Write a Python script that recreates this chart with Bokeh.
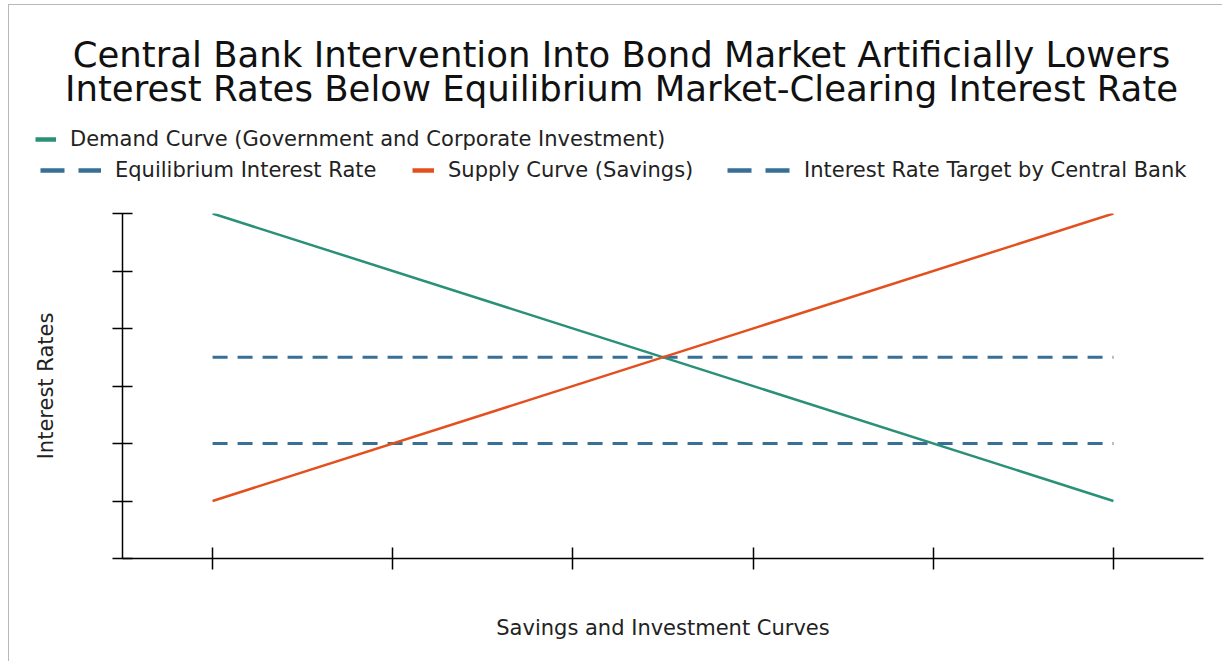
from bokeh.plotting import figure
from bokeh.layouts import column
from bokeh.models import (FixedTicker, Label, Legend, LegendItem, ColumnDataSource, Range1d,
                          CustomJSTickFormatter)
from bokeh.embed import file_html
from bokeh.resources import INLINE

# ---- data ----
x_positions = [0, 1, 2, 3, 4, 5]
curve_x = [0, 5]
demand_curve = [6, 1]
supply_curve = [1, 6]
equilibrium_rate = [3.5, 3.5]
target_rate = [2, 2]
y_ticks = [0, 1, 2, 3, 4, 5, 6]

title_lines = ["Central Bank Intervention Into Bond Market Artificially Lowers",
               "Interest Rates Below Equilibrium Market-Clearing Interest Rate"]
x_label = "Savings and Investment Curves"
y_label = "Interest Rates"
series_names = ["Demand Curve (Government and Corporate Investment)",
                "Equilibrium Interest Rate",
                "Supply Curve (Savings)",
                "Interest Rate Target by Central Bank"]

TEAL = "#2a9078"
ORANGE = "#e3501e"
BLUE = "#376f96"
FONT = "DejaVu Sans"
SMALL = "21px"

W = 1222
TOP_H = 208          # header figure (title + legend)
BOT_H = 661 - TOP_H  # chart figure

# ---------------- header figure: title + legend ----------------
head = figure(width=W, height=TOP_H, x_range=Range1d(0, W), y_range=Range1d(TOP_H, 0),
              output_backend="svg", toolbar_location=None,
              x_axis_location=None, y_axis_location=None,
              min_border=0, min_border_left=0, min_border_right=0,
              min_border_top=0, min_border_bottom=0)
head.frame_align = False
head.outline_line_color = None
head.grid.grid_line_color = None

for text, base_y in zip(title_lines, [54, 88]):
    head.add_layout(Label(x=621, y=base_y, text=text, text_align="center",
                          text_baseline="alphabetic",
                          text_font=FONT, text_font_size="35.5px", text_color="#111111"))

hidden = ColumnDataSource(dict(x=[-100], y=[-100]))
r_dem = head.line("x", "y", source=hidden, line_color=TEAL, line_width=4.5)
r_eq = head.line("x", "y", source=hidden, line_color=BLUE, line_width=4.5, line_dash="24 14")
r_sup = head.line("x", "y", source=hidden, line_color=ORANGE, line_width=4.5)
r_tgt = head.line("x", "y", source=hidden, line_color=BLUE, line_width=4.5, line_dash="24 14")

def add_legend(name, rend, gx, cy, gw):
    lg = Legend(items=[LegendItem(label=name, renderers=[rend])],
                location=(gx, TOP_H - (cy + 10)),
                glyph_width=gw, glyph_height=20, label_height=20,
                label_standoff=14, padding=0, margin=0, spacing=0,
                border_line_alpha=0, background_fill_alpha=0,
                label_text_font=FONT, label_text_font_size=SMALL,
                label_text_color="#222222")
    head.add_layout(lg, "center")

add_legend(series_names[0], r_dem, 35, 141, 21)
add_legend(series_names[1], r_eq, 40, 172, 61)
add_legend(series_names[2], r_sup, 412, 172, 22)
add_legend(series_names[3], r_tgt, 727, 172, 63)

# ---------------- chart figure ----------------
p = figure(width=W, height=BOT_H, x_range=(-0.5, 5.5), y_range=(0, 6),
           output_backend="svg", toolbar_location=None,
           min_border_left=122, min_border_right=19, min_border_top=5, min_border_bottom=103)
p.frame_align = False
p.outline_line_color = None
p.grid.grid_line_color = None

blank = CustomJSTickFormatter(code="return ''")
for ax in (p.xaxis[0], p.yaxis[0]):
    ax.axis_line_color = "black"
    ax.axis_line_width = 1.5
    ax.major_tick_line_color = "black"
    ax.major_tick_line_width = 1.5
    ax.major_tick_in = 10
    ax.major_tick_out = 10
    ax.minor_tick_line_color = None
    ax.formatter = blank
    ax.major_label_text_font_size = "0px"
    ax.major_label_standoff = 0
    ax.axis_label_text_font = FONT
    ax.axis_label_text_font_size = SMALL
    ax.axis_label_text_font_style = "normal"
    ax.axis_label_text_color = "#222222"
p.xaxis[0].ticker = FixedTicker(ticks=x_positions)
p.yaxis[0].ticker = FixedTicker(ticks=y_ticks)
p.xaxis[0].major_tick_in = 11
p.xaxis[0].major_tick_out = 11
p.xaxis[0].axis_label = x_label
p.yaxis[0].axis_label = y_label
p.xaxis[0].axis_label_standoff = 46
p.yaxis[0].axis_label_standoff = 55

src = ColumnDataSource(dict(x=curve_x, demand=demand_curve, supply=supply_curve,
                            eq=equilibrium_rate, tgt=target_rate))
p.line("x", "eq", source=src, line_color=BLUE, line_width=3, line_dash="15 10")
p.line("x", "tgt", source=src, line_color=BLUE, line_width=3, line_dash="15 10")
p.line("x", "demand", source=src, line_color=TEAL, line_width=2.5)
p.line("x", "supply", source=src, line_color=ORANGE, line_width=2.5)

layout = column(head, p, spacing=0)
layout.stylesheets = [":host { position: relative; } "
                      ":host::after { content: ''; position: absolute; left: 8px; top: 4px; "
                      "right: 0px; bottom: 0px; border-left: 1.5px solid #b8b8b8; "
                      "border-top: 1.5px solid #b8b8b8; pointer-events: none; z-index: 10; }"]
open("out.html", "w").write(file_html(layout, INLINE))
